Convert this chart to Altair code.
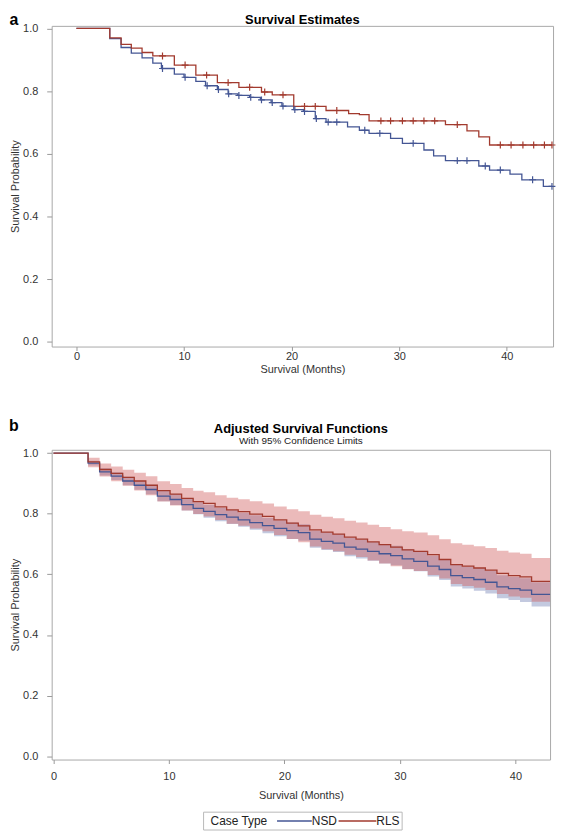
import altair as alt
import pandas as pd

# ---------------- Panel a: Kaplan-Meier survival estimates ----------------
groups = ["NSD", "RLS"]

nsd_step_t = [0, 3.1, 4.15, 5.1, 6.1, 7.1, 7.9, 9.1, 10.0, 11.1, 12.0, 13.1, 14.1, 15.0, 16.1,
              17.1, 18.1, 19.1, 20.2, 21.1, 22.2, 23.2, 25.2, 26.3, 27.2, 29.2, 30.3, 32.3,
              33.2, 34.3, 37.4, 38.4, 40.3, 41.4, 43.4]
nsd_step_s = [1.0, 0.967, 0.939, 0.921, 0.906, 0.889, 0.872, 0.854, 0.844, 0.831, 0.817, 0.805,
              0.791, 0.786, 0.780, 0.772, 0.763, 0.752, 0.741, 0.735, 0.712, 0.701, 0.686, 0.675,
              0.665, 0.649, 0.633, 0.612, 0.593, 0.578, 0.561, 0.548, 0.535, 0.517, 0.496]
nsd_censor_t = [8.0, 10.1, 12.15, 13.2, 14.15, 15.1, 16.2, 17.2, 18.2, 19.2, 20.3, 21.2, 22.3,
                23.4, 24.2, 26.8, 28.2, 31.3, 35.4, 36.3, 38.0, 39.4, 42.4, 44.2]

rls_step_t = [0, 3.1, 4.15, 5.1, 6.1, 7.1, 9.1, 11.1, 13.1, 15.1, 17.2, 18.2, 20.2, 23.2, 25.3,
              26.3, 27.2, 34.3, 36.3, 37.4, 38.4]
rls_step_s = [1.0, 0.970, 0.949, 0.937, 0.923, 0.912, 0.883, 0.851, 0.827, 0.812, 0.797, 0.788,
              0.751, 0.738, 0.728, 0.725, 0.705, 0.693, 0.673, 0.654, 0.628]
rls_censor_t = [8.0, 10.1, 12.1, 14.1, 16.1, 17.5, 19.2, 21.2, 22.2, 24.2, 28.3, 29.2, 30.3,
                31.3, 32.3, 33.3, 35.4, 39.4, 40.4, 41.5, 42.5, 43.5, 44.2]

km_end = 44.2

# ---------------- Panel b: adjusted survival with 95% CL ----------------
adj_t = [3.0, 4.0, 5.0, 6.0, 7.0, 8.0, 9.0, 10.1, 11.1, 12.1, 13.0, 14.0, 15.0, 16.0, 17.0,
         18.1, 19.1, 20.2, 21.2, 22.2, 23.2, 24.2, 25.2, 26.2, 27.2, 28.2, 29.2, 30.2, 31.2,
         32.4, 33.4, 34.4, 35.4, 36.4, 37.4, 38.4, 39.4, 40.4, 41.4]
rls_s = [0.971, 0.946, 0.933, 0.920, 0.908, 0.894, 0.876, 0.865, 0.851, 0.840, 0.834, 0.823,
         0.813, 0.807, 0.799, 0.791, 0.780, 0.769, 0.760, 0.747, 0.739, 0.733, 0.723, 0.716,
         0.707, 0.698, 0.690, 0.681, 0.676, 0.665, 0.649, 0.632, 0.627, 0.621, 0.614, 0.603,
         0.596, 0.592, 0.577]
rls_hi = [0.985, 0.966, 0.956, 0.945, 0.935, 0.924, 0.907, 0.898, 0.885, 0.876, 0.871, 0.861,
          0.853, 0.848, 0.841, 0.834, 0.824, 0.815, 0.808, 0.797, 0.790, 0.785, 0.777, 0.771,
          0.764, 0.756, 0.749, 0.742, 0.738, 0.729, 0.716, 0.703, 0.698, 0.693, 0.687, 0.678,
          0.672, 0.668, 0.654]
rls_lo = [0.953, 0.923, 0.907, 0.892, 0.877, 0.861, 0.840, 0.827, 0.811, 0.799, 0.791, 0.779,
          0.767, 0.760, 0.751, 0.742, 0.730, 0.717, 0.706, 0.692, 0.683, 0.676, 0.665, 0.657,
          0.646, 0.636, 0.627, 0.617, 0.611, 0.598, 0.586, 0.568, 0.562, 0.556, 0.548, 0.535,
          0.527, 0.523, 0.510]
nsd_s = [0.967, 0.938, 0.924, 0.908, 0.894, 0.880, 0.858, 0.847, 0.830, 0.818, 0.808, 0.797,
         0.789, 0.780, 0.771, 0.761, 0.752, 0.744, 0.738, 0.716, 0.709, 0.703, 0.690, 0.683,
         0.676, 0.668, 0.662, 0.651, 0.643, 0.627, 0.616, 0.596, 0.589, 0.583, 0.574, 0.559,
         0.553, 0.548, 0.534]
nsd_hi = [0.975, 0.950, 0.937, 0.922, 0.909, 0.896, 0.875, 0.865, 0.849, 0.838, 0.829, 0.819,
          0.812, 0.803, 0.795, 0.786, 0.778, 0.771, 0.765, 0.744, 0.738, 0.732, 0.720, 0.714,
          0.707, 0.700, 0.694, 0.684, 0.676, 0.661, 0.651, 0.632, 0.625, 0.620, 0.611, 0.597,
          0.591, 0.587, 0.574]
nsd_lo = [0.959, 0.926, 0.911, 0.894, 0.879, 0.864, 0.841, 0.829, 0.811, 0.798, 0.787, 0.775,
          0.766, 0.757, 0.747, 0.736, 0.726, 0.717, 0.711, 0.688, 0.680, 0.674, 0.660, 0.652,
          0.645, 0.636, 0.630, 0.618, 0.610, 0.593, 0.581, 0.560, 0.553, 0.546, 0.537, 0.521,
          0.515, 0.509, 0.494]
adj_end = 43.0

legend_title = "Case Type"
line_colors = ["#445694", "#A23A2E"]
band_colors = ["#6F7EB3", "#D05B5B"]

# ---------------- build tables ----------------
def km_rows(name, ts, ss, end):
    rows = [dict(group=name, t=t, s=s) for t, s in zip(ts, ss)]
    rows.append(dict(group=name, t=end, s=ss[-1]))
    return rows

def censor_rows(name, cts, ts, ss):
    rows = []
    for c in cts:
        val = [s for t, s in zip(ts, ss) if t <= c][-1]
        rows.append(dict(group=name, t=c, s=val))
    return rows

km_df = pd.DataFrame(km_rows("NSD", nsd_step_t, nsd_step_s, km_end) +
                     km_rows("RLS", rls_step_t, rls_step_s, km_end))
cens_df = pd.DataFrame(censor_rows("NSD", nsd_censor_t, nsd_step_t, nsd_step_s) +
                       censor_rows("RLS", rls_censor_t, rls_step_t, rls_step_s))

def adj_rows(name, s, lo, hi):
    rows = [dict(group=name, t=0.0, s=1.0, lo=1.0, hi=1.0)]
    rows += [dict(group=name, t=t, s=a, lo=b, hi=c) for t, a, b, c in zip(adj_t, s, lo, hi)]
    rows.append(dict(group=name, t=adj_end, s=s[-1], lo=lo[-1], hi=hi[-1]))
    return rows

adj_df = pd.DataFrame(adj_rows("NSD", nsd_s, nsd_lo, nsd_hi) + adj_rows("RLS", rls_s, rls_lo, rls_hi))

# ---------------- styling ----------------
FONT = "Liberation Sans"
line_scale = alt.Scale(domain=groups, range=line_colors)
band_scale = alt.Scale(domain=groups, range=band_colors)
plus_path = "M-1,0L1,0M0,-1L0,1"
one_row = pd.DataFrame({"k": [0]})

def y_axis():
    return alt.Axis(values=[0, 0.2, 0.4, 0.6, 0.8, 1.0], format=".1f", title="Survival Probability",
                    grid=False, domain=False, tickSize=5, labelPadding=9, titlePadding=2)

def text_layer(txt, x, y, size, weight="normal", color="black", align="center"):
    return alt.Chart(pd.DataFrame({"lab": [txt]})).mark_text(
        font=FONT, fontSize=size, fontWeight=weight, align=align, baseline="middle", color=color
    ).encode(x=alt.value(x), y=alt.value(y), text="lab:N")

# ---------------- panel a ----------------
W_A, H_A = 505, 323
xa = alt.X("t:Q", scale=alt.Scale(domain=[-2.3, 44.3], nice=False, zero=False),
           axis=alt.Axis(values=[0, 10, 20, 30, 40], title="Survival (Months)", grid=False,
                         domain=False, tickSize=4, labelPadding=0, titlePadding=2))
ya_scale = alt.Scale(domain=[-0.015, 1.008], nice=False, zero=False)
ya = alt.Y("s:Q", scale=ya_scale, axis=y_axis())

a_lines = alt.Chart(km_df).mark_line(interpolate="step-after", strokeWidth=1.3).encode(
    x=xa, y=ya, color=alt.Color("group:N", scale=line_scale, legend=None))
a_cens = alt.Chart(cens_df).mark_point(shape=plus_path, size=48, filled=False, strokeWidth=1.2,
                                       opacity=1).encode(
    x=xa, y=ya, color=alt.Color("group:N", scale=line_scale, legend=None))

panel_a = alt.layer(
    a_lines, a_cens,
    text_layer("a", -38, -6, 16, "bold"),
    text_layer("Survival Estimates", W_A / 2, -6, 13, "bold"),
).properties(width=W_A, height=H_A)

# ---------------- panel b ----------------
W_B, H_B = 502, 312
xb = alt.X("t:Q", scale=alt.Scale(domain=[-0.15, 43.0], nice=False, zero=False),
           axis=alt.Axis(values=[0, 10, 20, 30, 40], title="Survival (Months)", grid=False,
                         domain=False, tickSize=4, labelPadding=7, titlePadding=8))
yb_scale = alt.Scale(domain=[-0.011, 1.011], nice=False, zero=False)

b_band = alt.Chart(adj_df).mark_area(interpolate="step-after", opacity=0.42).encode(
    x=xb, y=alt.Y("lo:Q", scale=yb_scale, axis=y_axis()),
    y2="hi:Q", fill=alt.Fill("group:N", scale=band_scale, legend=None))
b_lines = alt.Chart(adj_df).mark_line(interpolate="step-after", strokeWidth=1.3).encode(
    x=xb, y=alt.Y("s:Q", scale=yb_scale, axis=y_axis()),
    color=alt.Color("group:N", scale=line_scale, legend=None))

# legend box drawn below the panel (Case Type: NSD / RLS)
LY = 374
leg_box = alt.Chart(one_row).mark_rect(fill="white", stroke="#b8b8b8", strokeWidth=1).encode(
    x=alt.value(153), x2=alt.value(353), y=alt.value(LY - 9), y2=alt.value(LY + 9))
leg_nsd = alt.Chart(one_row).mark_rule(strokeWidth=1.5, color=line_colors[0]).encode(
    x=alt.value(227), x2=alt.value(262), y=alt.value(LY), y2=alt.value(LY))
leg_rls = alt.Chart(one_row).mark_rule(strokeWidth=1.5, color=line_colors[1]).encode(
    x=alt.value(289), x2=alt.value(327), y=alt.value(LY), y2=alt.value(LY))

panel_b = alt.layer(
    b_band, b_lines,
    text_layer("b", -38, -24, 16, "bold"),
    text_layer("Adjusted Survival Functions", W_B / 2, -21, 13, "bold"),
    text_layer("With 95% Confidence Limits", W_B / 2, -9, 10, "normal", "#222"),
    leg_box, leg_nsd, leg_rls,
    text_layer(legend_title, 160, LY, 12, "normal", "#222", "left"),
    text_layer(groups[0], 262, LY, 12, "normal", "#222", "left"),
    text_layer(groups[1], 327, LY, 12, "normal", "#222", "left"),
).properties(width=W_B, height=H_B)

chart = alt.vconcat(panel_a, panel_b, spacing=42).resolve_scale(
    color="independent", fill="independent"
).properties(
    padding={"left": 0, "top": 0, "right": 0, "bottom": 0}
).configure_view(stroke="#a8a8a8", strokeWidth=1).configure_axis(
    labelFont=FONT, titleFont=FONT, labelFontSize=11, titleFontSize=11, labelColor="#333",
    titleColor="#333", titleFontWeight="normal", tickColor="#999"
)

chart.save("out.html", embed_options={"renderer": "svg", "actions": False})
